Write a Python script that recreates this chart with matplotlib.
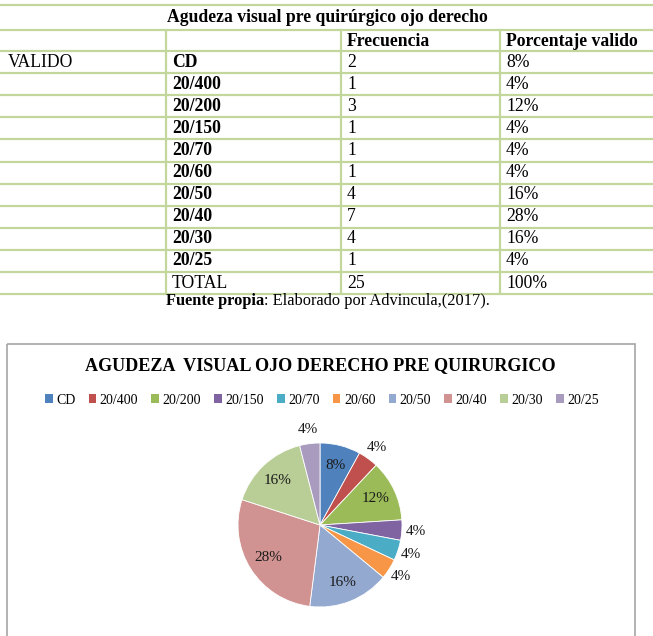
import matplotlib.pyplot as plt
import numpy as np
from matplotlib.patches import Rectangle, Patch

plt.rcParams['font.family'] = ['Liberation Serif', 'DejaVu Serif']

# datos
categorias = ["CD", "20/400", "20/200", "20/150", "20/70", "20/60",
              "20/50", "20/40", "20/30", "20/25"]
frecuencia = [2, 1, 3, 1, 1, 1, 4, 7, 4, 1]
porcentaje = ["8%", "4%", "12%", "4%", "4%", "4%", "16%", "28%", "16%", "4%"]
total_frec = "25"
total_pct = "100%"
colores = ["#4F81BD", "#C0504D", "#9BBB59", "#8064A2", "#4BACC6", "#F79646",
           "#93A9CF", "#D09392", "#B9CD96", "#A89BBE"]

W, H = 653, 636
fig = plt.figure(figsize=(W / 100, H / 100), dpi=100)
ax = fig.add_axes([0, 0, 1, 1])
ax.set_xlim(0, W)
ax.set_ylim(H, 0)
ax.axis("off")

# ---- tabla ----
verde = "#C3D69B"
fs = 12.7
row_h = 22.1
y_hdr = 51
col_x = [166, 341, 500]

ys = [5, 30] + [y_hdr + row_h * i for i in range(12)]
for y in ys:
    ax.plot([0, W], [y, y], color=verde, lw=1.6, solid_capstyle="butt")
for x in col_x:
    ax.plot([x, x], [30, ys[-1]], color=verde, lw=1.6, solid_capstyle="butt")

ax.text(327, 17.5, "Agudeza visual pre quirúrgico ojo derecho", ha="center",
        va="center", fontsize=fs, fontweight="bold")
ax.text(col_x[1] + 6, 41, "Frecuencia", ha="left", va="center",
        fontsize=fs, fontweight="bold")
ax.text(col_x[2] + 6, 41, "Porcentaje valido", ha="left", va="center",
        fontsize=fs, fontweight="bold")

for i, (c, f, p) in enumerate(zip(categorias, frecuencia, porcentaje)):
    yc = y_hdr + row_h * (i + 0.5)
    if i == 0:
        ax.text(8, yc, "VALIDO", ha="left", va="center", fontsize=fs)
    ax.text(col_x[0] + 6, yc, c, ha="left", va="center", fontsize=fs,
            fontweight="bold")
    ax.text(col_x[1] + 6, yc, str(f), ha="left", va="center", fontsize=fs)
    ax.text(col_x[2] + 6, yc, p, ha="left", va="center", fontsize=fs)

yc = y_hdr + row_h * 10.5
ax.text(col_x[0] + 6, yc, "TOTAL", ha="left", va="center", fontsize=fs)
ax.text(col_x[1] + 6, yc, total_frec, ha="left", va="center", fontsize=fs)
ax.text(col_x[2] + 6, yc, total_pct, ha="left", va="center", fontsize=fs)

ax.text(264, 301, "Fuente propia", ha="right", va="center", fontsize=11.8,
        fontweight="bold")
ax.text(264, 301, ": Elaborado por Advincula,(2017).", ha="left",
        va="center", fontsize=11.8)

# ---- grafico ----
ax.add_patch(Rectangle((7, 344), 628, 310, fill=False, edgecolor="#A6A6A6",
                       lw=1.2))
ax.text(320, 366, "AGUDEZA  VISUAL OJO DERECHO PRE QUIRURGICO", ha="center",
        va="center", fontsize=13.1, fontweight="bold")

cx, cy, r = 320, 525, 82
pax = fig.add_axes([(cx - r) / W, (H - cy - r) / H, 2 * r / W, 2 * r / H])
wedges, texts, autotexts = pax.pie(
    frecuencia, colors=colores, startangle=90, counterclock=False,
    autopct="%1.0f%%", pctdistance=0.75,
    wedgeprops=dict(edgecolor="white", linewidth=0.6),
    textprops=dict(fontsize=11, color="#1a1a1a"))
pax.set_xlim(-1, 1)
pax.set_ylim(-1, 1)

total = sum(frecuencia)
for w, t, f in zip(wedges, autotexts, frecuencia):
    if f / total < 0.06:
        ang = np.deg2rad((w.theta1 + w.theta2) / 2)
        t.set_position((1.17 * np.cos(ang), 1.17 * np.sin(ang)))

handles = [Patch(facecolor=c, edgecolor="none") for c in colores]
fig.legend(handles, categorias, loc="center",
           bbox_to_anchor=(322 / W, 1 - 400 / H), ncol=10, frameon=False,
           fontsize=10.0, handlelength=0.55, handleheight=0.55,
           handletextpad=0.25, columnspacing=0.95, borderaxespad=0)

fig.savefig("out.png", dpi=100)
